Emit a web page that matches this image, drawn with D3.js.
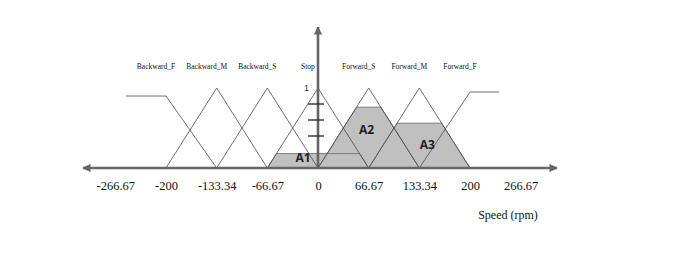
<!DOCTYPE html>
<html>
<head>
<meta charset="utf-8">
<script src="https://cdn.jsdelivr.net/npm/d3@7"></script>
<style>
  body { margin: 0; background: #fff; }
  svg { display: block; }
</style>
</head>
<body>
<div id="chart-area"></div>
<script>
// fuzzy sets for speed, vertices as [speed, membership]
const setNames = ["Backward_F", "Backward_M", "Backward_S", "Stop", "Forward_S", "Forward_M", "Forward_F"]
const setPoints = [
  [[-253, 0.9], [-200, 0.9], [-133.34, 0]],
  [[-200, 0], [-133.34, 1], [-66.67, 0]],
  [[-133.34, 0], [-66.67, 1], [0, 0]],
  [[-66.67, 0], [0, 1], [66.67, 0]],
  [[0, 0], [66.67, 1], [133.34, 0]],
  [[66.67, 0], [133.34, 1], [200, 0]],
  [[133.34, 0], [200, 0.95], [238, 0.95]]
]
// fired (clipped) sets
const areaNames = ["A1", "A2", "A3"]
const areaSets = ["Stop", "Forward_S", "Forward_M"]
const areaCuts = [0.18, 0.76, 0.56]

const xTicks = [-266.67, -200, -133.34, -66.67, 0, 66.67, 133.34, 200, 266.67]
const yTicks = [0.4, 0.6, 0.8]
const xTitle = "Speed (rpm)"

const WIDTH = 696, HEIGHT = 257

const svg = d3.select("#chart-area").append("svg")
  .attr("width", WIDTH)
  .attr("height", HEIGHT)

svg.append("rect").attr("width", WIDTH).attr("height", HEIGHT).attr("fill", "#fff")

const x = d3.scaleLinear().domain([-200, 200]).range([166, 470])
const y = d3.scaleLinear().domain([0, 1]).range([168, 88])

const line = d3.line().x(d => x(d[0])).y(d => y(d[1]))

// clipped triangles
const clipped = areaSets.map((name, i) => {
  const p = setPoints[setNames.indexOf(name)]
  const h = areaCuts[i]
  const a = p[0][0], b = p[1][0], c = p[2][0]
  return [[a, 0], [a + (b - a) * h, h], [c - (c - b) * h, h], [c, 0]]
})

const g = svg.append("g")

g.selectAll(".area")
  .data(clipped)
  .enter().append("path")
    .attr("class", "area")
    .attr("d", d => line(d) + "Z")
    .attr("fill", "#c0c0c0")

g.selectAll(".area-edge")
  .data(clipped)
  .enter().append("path")
    .attr("class", "area-edge")
    .attr("d", d => line(d))
    .attr("fill", "none")
    .attr("stroke", "#7c7c7c")
    .attr("stroke-width", 1)

g.selectAll(".set")
  .data(setPoints)
  .enter().append("path")
    .attr("class", "set")
    .attr("d", d => line(d))
    .attr("fill", "none")
    .attr("stroke", "#4a4a4a")
    .attr("stroke-width", 0.8)

// arrow heads
const defs = svg.append("defs")
defs.append("marker")
  .attr("id", "arrow")
  .attr("viewBox", "0 0 10 10")
  .attr("refX", 9).attr("refY", 5)
  .attr("markerWidth", 4).attr("markerHeight", 3.2)
  .attr("markerUnits", "strokeWidth")
  .attr("orient", "auto-start-reverse")
  .append("path")
    .attr("d", "M0,0L10,5L0,10Z")
    .attr("fill", "#666")

svg.append("line")
  .attr("x1", 83).attr("x2", 557)
  .attr("y1", y(0)).attr("y2", y(0))
  .attr("stroke", "#666").attr("stroke-width", 2.6)
  .attr("marker-start", "url(#arrow)")
  .attr("marker-end", "url(#arrow)")

svg.append("line")
  .attr("x1", x(0)).attr("x2", x(0))
  .attr("y1", y(0)).attr("y2", 27)
  .attr("stroke", "#666").attr("stroke-width", 2.6)
  .attr("marker-end", "url(#arrow)")

svg.selectAll(".ytick")
  .data(yTicks)
  .enter().append("line")
    .attr("class", "ytick")
    .attr("x1", x(0) - 10).attr("x2", x(0) + 6)
    .attr("y1", d => y(d)).attr("y2", d => y(d))
    .attr("stroke", "#222").attr("stroke-width", 1.3)

svg.append("text")
  .attr("x", x(0) - 9).attr("y", y(1) + 3)
  .attr("text-anchor", "end")
  .attr("font-family", "Liberation Sans, sans-serif")
  .attr("font-size", 9)
  .attr("fill", "#333")
  .text("1")

// x tick labels
const xAxisCall = d3.axisBottom(x)
  .tickValues(xTicks)
  .tickSize(0)
  .tickPadding(13)
  .tickFormat(d => d)
const xAxis = svg.append("g")
  .attr("class", "x axis")
  .attr("transform", `translate(0,${y(0)})`)
  .call(xAxisCall)
xAxis.select(".domain").remove()
xAxis.selectAll("text")
  .attr("font-family", "Liberation Serif, serif")
  .attr("font-size", 12.5)
  .attr("fill", "#111")

svg.append("text")
  .attr("x", 508).attr("y", 219)
  .attr("text-anchor", "middle")
  .attr("font-family", "Liberation Serif, serif")
  .attr("font-size", 12)
  .attr("fill", "#111")
  .text(xTitle)

// set names above the peaks
svg.selectAll(".set-name")
  .data(setNames)
  .enter().append("text")
    .attr("class", "set-name")
    .attr("x", (d, i) => {
      const p = setPoints[i]
      const top = p.find(v => v[1] === d3.max(p, q => q[1]))
      const corner = i === 0 ? p[1] : top
      return x(corner[0]) - 10
    })
    .attr("y", 69)
    .attr("text-anchor", "middle")
    .attr("font-family", "Liberation Serif, serif")
    .attr("font-size", 7.5)
    .attr("fill", "#111")
    .text(d => d)

// area labels
const labelNudge = [[-15, -6], [-2, -34], [8, -19]]
svg.selectAll(".area-name")
  .data(areaNames)
  .enter().append("text")
    .attr("class", "area-name")
    .attr("x", (d, i) => x(setPoints[setNames.indexOf(areaSets[i])][1][0]) + labelNudge[i][0])
    .attr("y", (d, i) => y(0) + labelNudge[i][1])
    .attr("text-anchor", "middle")
    .attr("font-family", "Open Sans, sans-serif")
    .attr("font-weight", "bold")
    .attr("font-size", 12)
    .attr("fill", "#222")
    .text(d => d)
</script>
</body>
</html>
